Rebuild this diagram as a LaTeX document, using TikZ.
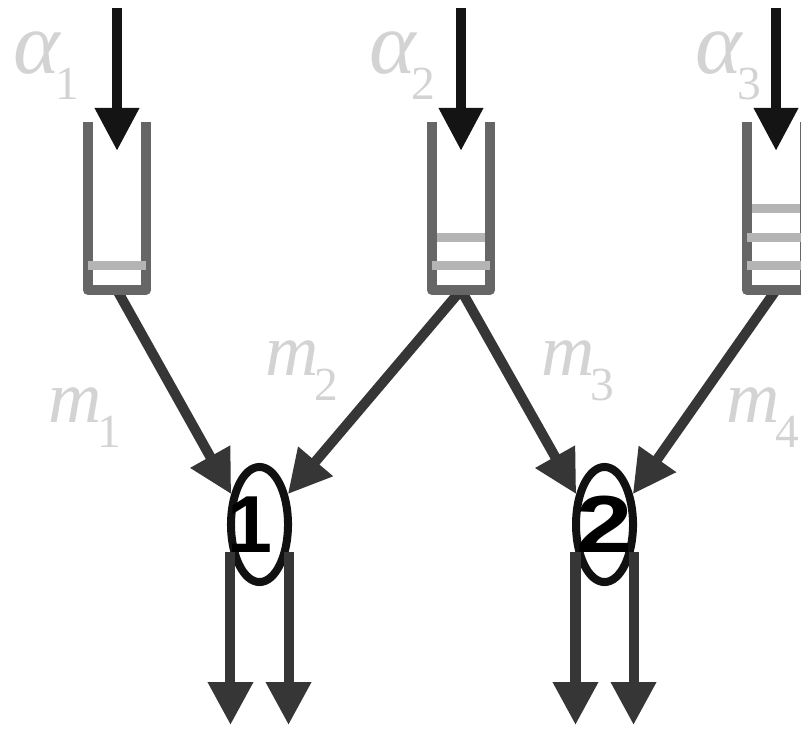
\documentclass[tikz,border=0pt]{standalone}
\usepackage{fontspec}
\usepackage{graphicx}
\newfontfamily\digitfont{Liberation Sans}
\newfontfamily\ratefont{Liberation Serif}
\usetikzlibrary{arrows.meta,shapes.geometric}
\definecolor{wallgray}{HTML}{666666}
\definecolor{bargray}{HTML}{B4B4B4}
\definecolor{labelgray}{HTML}{D3D3D3}
\definecolor{linkgray}{HTML}{363636}
\definecolor{feedblack}{HTML}{141414}
\definecolor{servblack}{HTML}{111111}
% rate label: italic letter with a large lowered index
\newcommand{\ratelabel}[2]{{\itshape #1}\kern-0.05cm\raisebox{-0.25cm}{\fontsize{13.5}{14}\selectfont #2}}
\tikzset{
  buffer/.style={minimum width=0.585cm, minimum height=1.68cm, inner sep=0pt, outer sep=0pt},
  wall/.style={wallgray, line width=0.1cm, line join=round},
  bar/.style={bargray, line width=0.09cm},
  feed/.style={feedblack, line width=0.1cm, -{Triangle[width=0.42cm,length=0.43cm]}},
  link/.style={linkgray, line width=0.1cm, -{Triangle[width=0.43cm,length=0.43cm]}},
  server/.style={draw=servblack, ellipse, line width=0.08cm, minimum width=0.57cm, minimum height=1.15cm, inner sep=0pt, font=\digitfont\bfseries\fontsize{23}{23}\selectfont},
  rate/.style={labelgray, inner sep=0pt, anchor=base west, font=\ratefont\fontsize{21}{24}\selectfont}
}
\begin{document}
\begin{tikzpicture}[x=0.01cm, y=-0.01cm]
        \useasboundingbox (0,0) rectangle (801,728);
        % Place the buffers and the two servers
        \foreach \i/\x in {1/117,2/461,3/776} {
            \node[buffer] (b\i) at (\x, 206) {};
            \coordinate (f\i) at (\x, 8);
        }
        \node[server] (e1) at (259.5, 524.5) {\makebox[0pt]{1\hspace{0.2cm}}};
        \node[server] (e2) at (604.5, 524.5) {\makebox[0pt]{\scalebox{1.25}[1]{2}}};

        % Labels
        \node[rate] (a1) at (13, 74) {\ratelabel{\scalebox{1.2}{α}}{1}};
        \node[rate] (a2) at (369, 74) {\ratelabel{\scalebox{1.2}{α}}{2}};
        \node[rate] (a3) at (695, 74) {\ratelabel{\scalebox{1.2}{α}}{3}};
        \node[rate] (m1) at (48, 422) {\ratelabel{m}{1}};
        \node[rate] (m2) at (265, 375) {\ratelabel{m}{2}};
        \node[rate] (m3) at (541, 375) {\ratelabel{m}{3}};
        \node[rate] (m4) at (726, 422) {\ratelabel{m}{4}};

        % Draw the links from the buffers to the servers
        \draw[link] (b1.south) -- (e1.133);
        \draw[link] (b2.south) -- (e1.47);
        \draw[link] (b2.south) -- (e2.133);
        \draw[link] (b3.south) -- (e2.47);

        % Draw the buffer walls and the waiting jobs
        \foreach \i in {1,2,3} {
            \draw[wall] (b\i.north west) -- (b\i.south west) -- (b\i.south east) -- (b\i.north east);
            \foreach \j in {1,...,\i} {
                % topmost job sits inside the walls
                \pgfmathsetmacro{\ins}{(\j>1 && \j==\i) ? 0.05 : 0}
                \pgfmathsetmacro{\up}{0.245+0.285*(\j-1)}
                \draw[bar] ([xshift=\ins cm, yshift=\up cm]b\i.south west) -- ([xshift=-\ins cm, yshift=\up cm]b\i.south east);
            }
            % arrivals
            \draw[feed] (f\i) -- ([yshift=-0.29cm]b\i.north);
        }

        % Draw the departures
        \foreach \i in {1,2} {
            \foreach \s in {-0.29,0.29} {
                \draw[link] ([xshift=\s cm, yshift=-0.275cm]e\i.center) -- ++(0,173);
            }
        }
    \end{tikzpicture}
\end{document}
